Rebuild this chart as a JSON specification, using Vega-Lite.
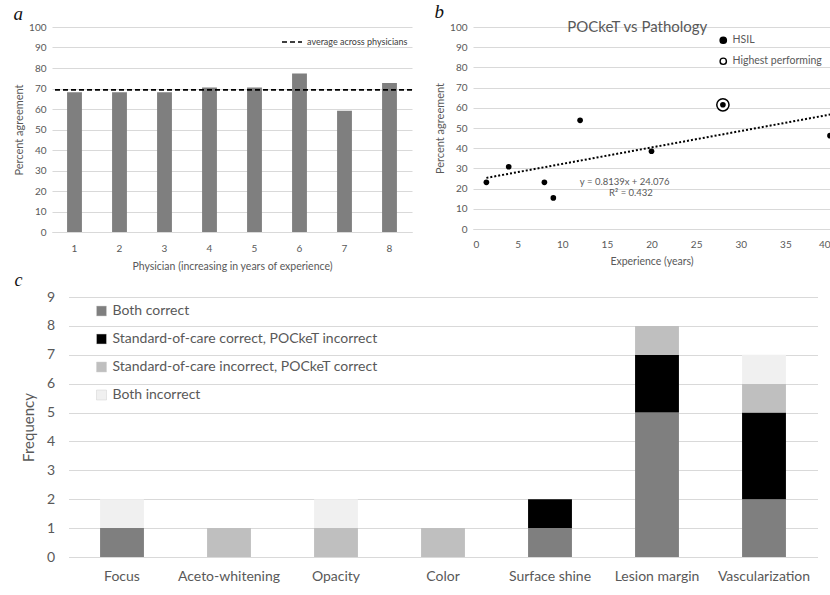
{
  "$schema": "https://vega.github.io/schema/vega-lite/v6.json",
  "padding": {"left": 13, "top": 3, "right": 0, "bottom": 0},
  "background": "white",
  "config": {
    "font": "Lato",
    "view": {"stroke": null},
    "axis": {"labelColor": "#595959", "titleColor": "#595959", "gridColor": "#d9d9d9", "domainColor": "#d9d9d9", "ticks": false, "titleFontWeight": "normal", "labelFont": "Lato", "titleFont": "Lato"},
    "legend": {"labelColor": "#595959", "labelFont": "Lato", "labelLimit": 500},
    "title": {"font": "Liberation Serif", "fontStyle": "italic", "fontWeight": "normal", "fontSize": 19, "anchor": "start", "frame": "bounds", "color": "#111111"}
  },
  "resolve": {
    "scale": {"color": "independent", "fill": "independent", "strokeDash": "independent"},
    "legend": {"color": "independent", "fill": "independent", "strokeDash": "independent"}
  },
  "center": true,
  "spacing": 0,
  "vconcat": [
    {
      "spacing": 21,
      "resolve": {
        "scale": {"fill": "independent", "strokeDash": "independent"},
        "legend": {"fill": "independent", "strokeDash": "independent"}
      },
      "hconcat": [
        {
          "title": {"text": "a", "offset": -2},
          "width": 360,
          "height": 205,
          "data": {"values": [
            {"physician": 1, "agreement": 68.2},
            {"physician": 2, "agreement": 68.2},
            {"physician": 3, "agreement": 68.2},
            {"physician": 4, "agreement": 70.5},
            {"physician": 5, "agreement": 70.5},
            {"physician": 6, "agreement": 77.3},
            {"physician": 7, "agreement": 59.1},
            {"physician": 8, "agreement": 72.7}
          ]},
          "layer": [
            {
              "mark": {"type": "bar", "color": "#7f7f7f"},
              "encoding": {
                "x": {"field": "physician", "type": "ordinal", "scale": {"paddingInner": 0.67, "paddingOuter": 0.335},
                  "axis": {"labelAngle": 0, "title": "Physician (increasing in years of experience)", "labelFontSize": 10, "titleFontSize": 10.5, "labelPadding": 11, "titlePadding": 8}},
                "y": {"field": "agreement", "type": "quantitative", "scale": {"domain": [0, 100]},
                  "axis": {"values": [0, 10, 20, 30, 40, 50, 60, 70, 80, 90, 100], "domain": false, "title": "Percent agreement", "labelFontSize": 10, "titleFontSize": 11, "labelPadding": 6, "titlePadding": 4}}
              }
            },
            {
              "mark": {"type": "rule", "color": "black", "strokeWidth": 1.6},
              "encoding": {
                "y": {"aggregate": "mean", "field": "agreement", "type": "quantitative",
                  "axis": {"values": [0, 10, 20, 30, 40, 50, 60, 70, 80, 90, 100], "domain": false, "title": "Percent agreement", "labelFontSize": 10, "titleFontSize": 11, "labelPadding": 6, "titlePadding": 4}},
                "strokeDash": {"datum": "average across physicians", "scale": {"range": [[5, 3]]},
                  "legend": {"title": null, "orient": "top-right", "offset": 4, "symbolType": "stroke", "symbolStrokeColor": "black", "symbolStrokeWidth": 1.6, "symbolSize": 400, "labelFontSize": 9, "labelColor": "#404040"}}
              }
            }
          ]
        },
        {
          "title": {"text": "b", "offset": -2},
          "width": 357,
          "height": 202,
          "data": {"values": [
            {"experience": 1.5, "agreement": 23.1},
            {"experience": 4, "agreement": 30.8},
            {"experience": 8, "agreement": 23.1},
            {"experience": 9, "agreement": 15.4},
            {"experience": 12, "agreement": 53.8},
            {"experience": 20, "agreement": 38.5},
            {"experience": 28, "agreement": 61.5},
            {"experience": 40, "agreement": 46.2}
          ]},
          "layer": [
            {
              "transform": [{"regression": "agreement", "on": "experience"}],
              "mark": {"type": "line", "color": "black", "strokeDash": [2, 2], "strokeWidth": 2},
              "encoding": {
                "x": {"field": "experience", "type": "quantitative", "scale": {"domain": [0, 40], "nice": false},
                  "axis": {"values": [0, 5, 10, 15, 20, 25, 30, 35, 40], "grid": false, "title": "Experience (years)", "labelFontSize": 10, "titleFontSize": 10.5, "labelPadding": 10, "titlePadding": 7}},
                "y": {"field": "agreement", "type": "quantitative", "scale": {"domain": [0, 100]},
                  "axis": {"values": [0, 10, 20, 30, 40, 50, 60, 70, 80, 90, 100], "domain": false, "title": "Percent agreement", "labelFontSize": 10, "titleFontSize": 11, "labelPadding": 6, "titlePadding": 4}}
              }
            },
            {
              "transform": [
                {"joinaggregate": [{"op": "max", "field": "agreement", "as": "best"}]},
                {"filter": "datum.agreement == datum.best"}
              ],
              "mark": {"type": "point", "shape": "circle", "size": 150, "filled": true, "stroke": "black", "strokeWidth": 1.5, "opacity": 1},
              "encoding": {
                "x": {"field": "experience", "type": "quantitative",
                  "axis": {"values": [0, 5, 10, 15, 20, 25, 30, 35, 40], "grid": false, "title": "Experience (years)", "labelFontSize": 10, "titleFontSize": 10.5, "labelPadding": 10, "titlePadding": 7}},
                "y": {"field": "agreement", "type": "quantitative",
                  "axis": {"values": [0, 10, 20, 30, 40, 50, 60, 70, 80, 90, 100], "domain": false, "title": "Percent agreement", "labelFontSize": 10, "titleFontSize": 11, "labelPadding": 6, "titlePadding": 4}},
                "fill": {"datum": "Highest performing", "scale": {"domain": ["HSIL", "Highest performing"], "range": ["black", "white"]},
                  "legend": {"title": null, "orient": "top-right", "offset": 8, "symbolStrokeColor": "black", "symbolStrokeWidth": 1.4, "symbolSize": 40, "labelFontSize": 10.5, "rowPadding": 8, "labelColor": "#595959"}}
              }
            },
            {
              "mark": {"type": "point", "shape": "circle", "size": 32, "filled": true, "opacity": 1},
              "encoding": {
                "x": {"field": "experience", "type": "quantitative",
                  "axis": {"values": [0, 5, 10, 15, 20, 25, 30, 35, 40], "grid": false, "title": "Experience (years)", "labelFontSize": 10, "titleFontSize": 10.5, "labelPadding": 10, "titlePadding": 7}},
                "y": {"field": "agreement", "type": "quantitative",
                  "axis": {"values": [0, 10, 20, 30, 40, 50, 60, 70, 80, 90, 100], "domain": false, "title": "Percent agreement", "labelFontSize": 10, "titleFontSize": 11, "labelPadding": 6, "titlePadding": 4}},
                "fill": {"datum": "HSIL"}
              }
            },
            {
              "transform": [{"aggregate": [{"op": "count", "as": "n"}]}],
              "mark": {"type": "text", "fontSize": 15, "color": "#595959", "baseline": "middle"},
              "encoding": {
                "x": {"datum": 18.4, "type": "quantitative",
                  "axis": {"values": [0, 5, 10, 15, 20, 25, 30, 35, 40], "grid": false, "title": "Experience (years)", "labelFontSize": 10, "titleFontSize": 10.5, "labelPadding": 10, "titlePadding": 7}},
                "y": {"datum": 100, "type": "quantitative",
                  "axis": {"values": [0, 10, 20, 30, 40, 50, 60, 70, 80, 90, 100], "domain": false, "title": "Percent agreement", "labelFontSize": 10, "titleFontSize": 11, "labelPadding": 6, "titlePadding": 4}},
                "text": {"value": "POCkeT vs Pathology"}
              }
            },
            {
              "transform": [{"aggregate": [{"op": "count", "as": "n"}]}],
              "mark": {"type": "text", "fontSize": 9.5, "color": "#595959", "baseline": "middle"},
              "encoding": {
                "x": {"datum": 17.0, "type": "quantitative",
                  "axis": {"values": [0, 5, 10, 15, 20, 25, 30, 35, 40], "grid": false, "title": "Experience (years)", "labelFontSize": 10, "titleFontSize": 10.5, "labelPadding": 10, "titlePadding": 7}},
                "y": {"datum": 23.3, "type": "quantitative",
                  "axis": {"values": [0, 10, 20, 30, 40, 50, 60, 70, 80, 90, 100], "domain": false, "title": "Percent agreement", "labelFontSize": 10, "titleFontSize": 11, "labelPadding": 6, "titlePadding": 4}},
                "text": {"value": "y = 0.8139x + 24.076"}
              }
            },
            {
              "transform": [{"aggregate": [{"op": "count", "as": "n"}]}],
              "mark": {"type": "text", "fontSize": 9.5, "color": "#595959", "baseline": "middle"},
              "encoding": {
                "x": {"datum": 17.7, "type": "quantitative",
                  "axis": {"values": [0, 5, 10, 15, 20, 25, 30, 35, 40], "grid": false, "title": "Experience (years)", "labelFontSize": 10, "titleFontSize": 10.5, "labelPadding": 10, "titlePadding": 7}},
                "y": {"datum": 17.9, "type": "quantitative",
                  "axis": {"values": [0, 10, 20, 30, 40, 50, 60, 70, 80, 90, 100], "domain": false, "title": "Percent agreement", "labelFontSize": 10, "titleFontSize": 11, "labelPadding": 6, "titlePadding": 4}},
                "text": {"value": "R² = 0.432"}
              }
            }
          ]
        }
      ]
    },
    {
      "title": {"text": "c", "offset": 0, "fontSize": 18, "dx": -7},
      "width": 749,
      "height": 260,
      "data": {"values": [
        {"feature": "Focus", "outcome": "Both correct", "count": 1},
        {"feature": "Focus", "outcome": "Both incorrect", "count": 1},
        {"feature": "Aceto-whitening", "outcome": "Standard-of-care incorrect, POCkeT correct", "count": 1},
        {"feature": "Opacity", "outcome": "Standard-of-care incorrect, POCkeT correct", "count": 1},
        {"feature": "Opacity", "outcome": "Both incorrect", "count": 1},
        {"feature": "Color", "outcome": "Standard-of-care incorrect, POCkeT correct", "count": 1},
        {"feature": "Surface shine", "outcome": "Both correct", "count": 1},
        {"feature": "Surface shine", "outcome": "Standard-of-care correct, POCkeT incorrect", "count": 1},
        {"feature": "Lesion margin", "outcome": "Both correct", "count": 5},
        {"feature": "Lesion margin", "outcome": "Standard-of-care correct, POCkeT incorrect", "count": 2},
        {"feature": "Lesion margin", "outcome": "Standard-of-care incorrect, POCkeT correct", "count": 1},
        {"feature": "Vascularization", "outcome": "Both correct", "count": 2},
        {"feature": "Vascularization", "outcome": "Standard-of-care correct, POCkeT incorrect", "count": 3},
        {"feature": "Vascularization", "outcome": "Standard-of-care incorrect, POCkeT correct", "count": 1},
        {"feature": "Vascularization", "outcome": "Both incorrect", "count": 1}
      ]},
      "transform": [
        {"lookup": "outcome", "from": {"data": {"values": [
          {"outcome": "Both correct", "rank": 1},
          {"outcome": "Standard-of-care correct, POCkeT incorrect", "rank": 2},
          {"outcome": "Standard-of-care incorrect, POCkeT correct", "rank": 3},
          {"outcome": "Both incorrect", "rank": 4}
        ]}, "key": "outcome", "fields": ["rank"]}}
      ],
      "mark": {"type": "bar"},
      "encoding": {
        "x": {"field": "feature", "type": "nominal", "sort": ["Focus", "Aceto-whitening", "Opacity", "Color", "Surface shine", "Lesion margin", "Vascularization"],
          "scale": {"paddingInner": 0.59, "paddingOuter": 0.295},
          "axis": {"labelAngle": 0, "title": null, "labelFontSize": 14, "labelPadding": 12, "domain": false}},
        "y": {"field": "count", "type": "quantitative", "scale": {"domain": [0, 9]},
          "axis": {"values": [0, 1, 2, 3, 4, 5, 6, 7, 8, 9], "title": "Frequency", "titleFontSize": 15, "labelFontSize": 14, "labelPadding": 14, "titlePadding": 10, "domain": false}},
        "color": {"field": "outcome", "type": "nominal",
          "scale": {"domain": ["Both correct", "Standard-of-care correct, POCkeT incorrect", "Standard-of-care incorrect, POCkeT correct", "Both incorrect"], "range": ["#7f7f7f", "#000000", "#bfbfbf", "#f0f0f0"]},
          "legend": {"title": null, "orient": "none", "legendX": 26, "legendY": 7, "labelFontSize": 14, "symbolType": "square", "symbolSize": 100, "rowPadding": 14, "labelOffset": 4, "symbolStrokeColor": "#d0d0d0", "symbolStrokeWidth": 0.5}},
        "order": {"field": "rank", "type": "quantitative", "sort": "ascending"}
      }
    }
  ]
}
